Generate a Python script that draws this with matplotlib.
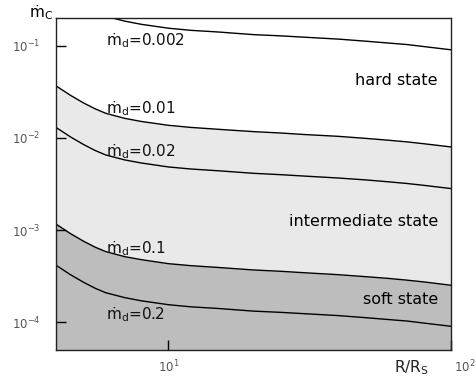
import matplotlib
matplotlib.use("Agg")
import matplotlib.pyplot as plt
import matplotlib.transforms as mtransforms

plt.rcParams['font.family'] = ['DejaVu Sans']
plt.rcParams['mathtext.fontset'] = 'dejavusans'

# Data
R = [4, 4.5, 5, 5.5, 6, 7, 8, 10, 12, 15, 20, 25, 30, 40, 50, 60, 70, 80, 100]
mc_0002 = [0.417, 0.328, 0.272, 0.234, 0.209, 0.185, 0.171, 0.155, 0.147, 0.141,
           0.132, 0.128, 0.124, 0.118, 0.112, 0.107, 0.103, 0.0980, 0.0904]
mc_001 = [3.67e-2, 2.90e-2, 2.40e-2, 2.07e-2, 1.85e-2, 1.63e-2, 1.51e-2, 1.37e-2, 1.30e-2, 1.24e-2,
          1.17e-2, 1.13e-2, 1.09e-2, 1.04e-2, 9.88e-3, 9.44e-3, 9.05e-3, 8.65e-3, 7.98e-3]
mc_002 = [1.30e-2, 1.026e-2, 8.50e-3, 7.31e-3, 6.53e-3, 5.77e-3, 5.35e-3, 4.84e-3, 4.60e-3, 4.40e-3,
          4.13e-3, 3.99e-3, 3.86e-3, 3.67e-3, 3.50e-3, 3.34e-3, 3.20e-3, 3.06e-3, 2.82e-3]
mc_01 = [1.162e-3, 9.16e-4, 7.59e-4, 6.53e-4, 5.84e-4, 5.15e-4, 4.78e-4, 4.32e-4, 4.11e-4, 3.93e-4,
         3.69e-4, 3.57e-4, 3.45e-4, 3.28e-4, 3.12e-4, 2.99e-4, 2.86e-4, 2.74e-4, 2.52e-4]
mc_02 = [4.16e-4, 3.28e-4, 2.72e-4, 2.34e-4, 2.09e-4, 1.85e-4, 1.71e-4, 1.55e-4, 1.47e-4, 1.41e-4,
         1.32e-4, 1.28e-4, 1.24e-4, 1.18e-4, 1.12e-4, 1.07e-4, 1.03e-4, 9.80e-5, 9.04e-5]
curves = [mc_0002, mc_001, mc_002, mc_01, mc_02]
mdot_d = ["0.002", "0.01", "0.02", "0.1", "0.2"]
label_y = [0.1008, 0.0187, 0.00637, 5.66e-4, 1.08e-4]  # baselines of the curve labels

xlim = (4, 100)
ylim = (5e-5, 0.2)

fig = plt.figure(figsize=(4.76, 3.83), dpi=100)
ax = fig.add_axes([0.1176, 0.0862, 0.8299, 0.8668])
ax.set_xscale('log')
ax.set_yscale('log')
ax.set_xlim(*xlim)
ax.set_ylim(*ylim)

# shaded regions
ax.fill_between(R, mc_01, mc_001, color='#e9e9e9', lw=0)
ax.fill_between(R, ylim[0], mc_01, color='#bdbdbd', lw=0)

for c in curves:
    ax.plot(R, c, color='black', lw=1)

# curve labels
for md, yy in zip(mdot_d, label_y):
    ax.text(6.0, yy, 'ṁ$_{\\mathrm{d}}$=' + md, fontsize=11, color='#111111',
            va='baseline', ha='left')

# state labels
ax.text(0.967, 0.813, 'hard state', transform=ax.transAxes, ha='right', va='center', fontsize=11.5)
ax.text(0.967, 0.386, 'intermediate state', transform=ax.transAxes, ha='right', va='center', fontsize=11.5)
ax.text(0.967, 0.151, 'soft state', transform=ax.transAxes, ha='right', va='center', fontsize=11.5)

# axis labels
fig.text(0.06, 0.966, 'ṁ$_{\\mathrm{C}}$', fontsize=11, ha='left', va='center')
fig.text(0.864, 0.04, 'R/R$_{\\mathrm{S}}$', fontsize=11, ha='center', va='center', color='#222222')

# ticks
ax.set_xticks([10, 100])
ax.set_xticklabels(['$10^{1}$', '$10^{2}$'])
ax.set_yticks([1e-1, 1e-2, 1e-3, 1e-4])
ax.set_yticklabels(['$10^{-1}$', '$10^{-2}$', '$10^{-3}$', '$10^{-4}$'])
ax.minorticks_off()
ax.tick_params(direction='in', length=7, width=1, labelsize=8.5, labelcolor='#555555')
ax.tick_params(axis='y', pad=11)
ax.tick_params(axis='x', pad=6)
last = ax.get_xticklabels()[-1]
last.set_horizontalalignment('left')
last.set_transform(last.get_transform() + mtransforms.ScaledTranslation(3 / 100, 0, fig.dpi_scale_trans))

for s in ax.spines.values():
    s.set_linewidth(1)
    s.set_color('#222222')

fig.savefig('out.png', dpi=100)
